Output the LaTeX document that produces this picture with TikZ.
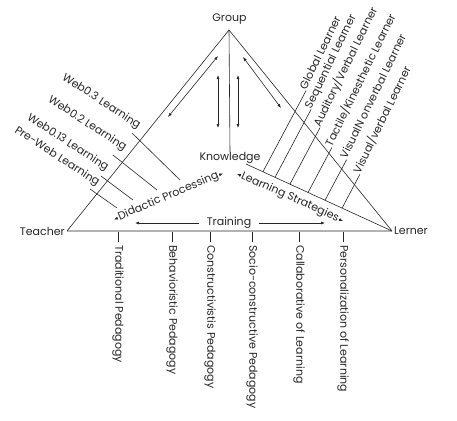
\documentclass[tikz,border=0pt]{standalone}
\usepackage{fontspec}
\setmainfont{Poppins}
\usetikzlibrary{arrows.meta,calc}
\begin{document}
\begin{tikzpicture}[x=1pt,y=-1pt,
  lbl/.style={font=\fontsize{11}{13}\selectfont, text=black!85, inner sep=0pt},
  ln/.style={draw=black!85, line width=0.6pt},
  dbl/.style={ln, {Latex[length=4pt,width=3pt]}-{Latex[length=4pt,width=3pt]}},
  tip/.style={ln, -{Latex[length=4pt,width=3pt]}},
  lrn/.style={lbl, anchor=base west, rotate=64},
  web/.style={lbl, anchor=base east, rotate=-33},
  ped/.style={lbl, anchor=west, rotate=-90},
]
\useasboundingbox (0,0) rectangle (457,420);

% vertices and corner labels
\coordinate (apex) at (229,30);
\coordinate (tv) at (67,231);
\coordinate (lv) at (392,231);
\node[lbl] (group) at (229.5,19) {Group};
\node[lbl, anchor=east] (teacher) at (65,231) {Teacher};
\node[lbl, anchor=west] (lerner) at (394,231) {Lerner};
\node[lbl] (know) at (230,158) {Knowledge};

% triangle
\draw[gray!60, line width=1.6pt] (tv) -- (lv);
\draw[ln] (tv) -- (apex) -- (lv);
\draw[ln] (apex) -- (know.north);
\coordinate (k2) at (246,164);
\draw[ln] (k2) -- (lv);

% double arrows near Group
\coordinate (a1s) at (218,56);  \coordinate (a1e) at (168,117);
\coordinate (a2s) at (218,75);  \coordinate (a2e) at (218,128);
\coordinate (a3s) at (238,75);  \coordinate (a3e) at (238,128);
\coordinate (a4s) at (243,57);  \coordinate (a4e) at (281,108);
\draw[dbl] (a1s) -- (a1e);
\draw[dbl] (a2s) -- (a2e);
\draw[dbl] (a3s) -- (a3e);
\draw[dbl] (a4s) -- (a4e);

% learner styles
\coordinate (p1) at ($(k2)!0.116!(lv)$);
\coordinate (p2) at ($(k2)!0.199!(lv)$);
\coordinate (p3) at ($(k2)!0.301!(lv)$);
\coordinate (p4) at ($(k2)!0.425!(lv)$);
\coordinate (p5) at ($(k2)!0.541!(lv)$);
\coordinate (p6) at ($(k2)!0.658!(lv)$);
\node[lrn] (l1) at (306.1,90.6) {Global Learner};
\node[lrn] (l2) at (311.1,109.3) {Sequential Learner};
\node[lrn] (l3) at (320.0,127.7) {Auditory/Verbal Learner};
\node[lrn] (l4) at (331.9,147.5) {Tactile/Kinesthetic Learner};
\node[lrn] (l5) at (346.6,159.7) {VisualN onverbal Learner};
\node[lrn] (l6) at (359.8,174.5) {Visual/verbal Learner};
\foreach \i in {1,...,6} \draw[ln] (p\i) -- (l\i.base west);

% web learning
\node[web] (w1) at (138,129) {Web0.3 Learning};
\node[web] (w2) at (124,151) {Web0.2 Learning};
\node[web] (w3) at (106,171) {Web0.13 Learning};
\node[web] (w4) at (97,186) {Pre-Web Learning};
\coordinate (s1) at (132,133); \coordinate (e1) at (180,180);
\coordinate (s2) at (113,155); \coordinate (e2) at (157,190);
\coordinate (s3) at (101,176); \coordinate (e3) at (133,200);
\coordinate (s4) at (90,189);  \coordinate (e4) at (117,208);
\foreach \i in {1,...,4} \draw[ln] (s\i) -- (e\i);

% processes
\node[lbl, inner sep=1pt, rotate=23] (dp) at (168.5,196.5) {Didactic Processing};
\draw[tip] (dp.west) -- ($(dp.west)!-4pt!(dp.east)$);
\draw[tip] (dp.east) -- ($(dp.east)!-4pt!(dp.west)$);
\node[lbl, inner sep=1pt, rotate=-24] (ls) at (290,197.5) {Learning Strategies};
\draw[tip] (ls.west) -- ($(ls.west)!-4pt!(ls.east)$);
\draw[tip] (ls.east) -- ($(ls.east)!-4pt!(ls.west)$);
\node[lbl] (tr) at (229,223) {Training};
\coordinate (trl) at (135,223);
\coordinate (trr) at (325,223);
\draw[tip] ([xshift=-8pt]tr.west) -- (trl);
\draw[tip] ([xshift=8pt]tr.east) -- (trr);

% pedagogies
\foreach \i/\x/\t in {1/118/Traditional Pedagogy, 2/172/Behavioristic Pedagogy,
  3/210/Constructivistis Pedagogy, 4/252/Socio-constructive Pedagogy,
  5/299/Callaborative of Learning, 6/343/Personalization of Learning} {
  \coordinate (b\i) at (\x,232);
  \node[ped] (t\i) at (\x,245) {\t};
  \draw[ln] (b\i) -- ([yshift=3pt]t\i.west);
}
\end{tikzpicture}
\end{document}
